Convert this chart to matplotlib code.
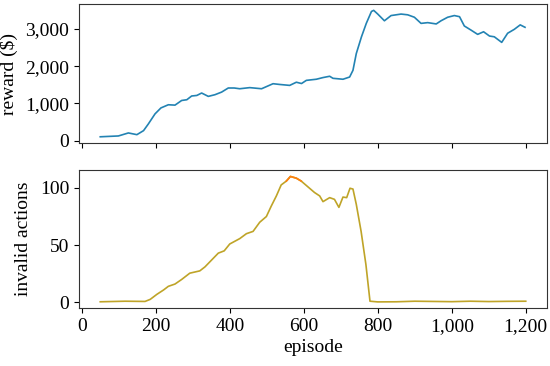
import matplotlib
matplotlib.use("Agg")
import matplotlib.pyplot as plt
from matplotlib.ticker import FuncFormatter
import numpy as np

# reward curve (rolling mean)
reward_ep = [50, 99, 126, 149, 167, 180, 198, 214, 234, 252, 270, 284, 297, 311,
             324, 342, 360, 378, 396, 412, 427, 454, 486, 517, 535, 562, 580, 594,
             607, 634, 652, 670, 679, 706, 724, 733, 742, 756, 769, 783, 789, 800,
             818, 836, 863, 881, 899, 917, 935, 958, 971, 989, 1007, 1021, 1034,
             1052, 1070, 1086, 1102, 1115, 1135, 1151, 1169, 1185, 1198]
reward = [105, 127, 208, 162, 270, 450, 720, 880, 965, 955, 1080, 1100, 1200, 1215,
          1280, 1190, 1235, 1305, 1415, 1415, 1395, 1425, 1395, 1530, 1510, 1485,
          1570, 1535, 1620, 1650, 1695, 1730, 1675, 1650, 1710, 1890, 2340, 2790,
          3150, 3470, 3500, 3400, 3220, 3360, 3400, 3380, 3315, 3150, 3170, 3135,
          3220, 3315, 3360, 3330, 3080, 2970, 2855, 2925, 2810, 2790, 2640, 2885,
          2990, 3110, 3045]

# invalid actions curve
invalid_ep = [50, 117, 171, 185, 203, 221, 234, 252, 270, 292, 319, 333, 351, 369,
              385, 400, 427, 445, 463, 481, 499, 512, 526, 539, 553, 564, 580, 593,
              611, 629, 643, 652, 670, 683, 695, 706, 716, 725, 733, 742, 755, 768,
              779, 800, 850, 900, 950, 1000, 1050, 1100, 1150, 1200]
invalid = [0.5, 1, 0.8, 2.6, 7, 10.8, 14, 16, 20, 25.5, 27.5, 31, 37, 43, 45, 51,
           55.7, 60, 62, 70, 75, 84, 93, 102.6, 106, 110, 108.5, 106, 101, 96, 93,
           88, 91.5, 90, 83, 92, 91.5, 99.7, 99, 85.6, 62, 33, 1, 0.4, 0.5, 1, 0.8,
           0.6, 1, 0.7, 0.9, 1]

plt.rcParams['font.family'] = ['Liberation Serif', 'DejaVu Serif']
plt.rcParams['font.size'] = 14

fig = plt.figure(figsize=(5.5, 3.66), dpi=100)
ax1 = fig.add_axes([0.1436, 0.609, 0.851, 0.380])
ax2 = fig.add_axes([0.1436, 0.158, 0.851, 0.377], sharex=ax1)

comma = FuncFormatter(lambda v, p: f"{int(v):,}")

ax1.plot(reward_ep, reward, color='#2383b3', lw=1.2)
ax1.set_ylabel('reward ($)', labelpad=5)
ax1.set_yticks([0, 1000, 2000, 3000])
ax1.yaxis.set_major_formatter(comma)
ax1.tick_params(labelbottom=False)

ax2.plot(invalid_ep, invalid, color='#bfa428', lw=1.2)
peak = [i for i, e in enumerate(invalid_ep) if 553 <= e <= 593]
ax2.plot([invalid_ep[i] for i in peak], [invalid[i] for i in peak],
         color='#ff7f0e', lw=1.2)
ax2.set_ylabel('invalid actions', labelpad=6)
ax2.set_xlabel('episode', labelpad=3)
ax2.set_yticks([0, 50, 100])
ax2.set_xticks([0, 200, 400, 600, 800, 1000, 1200])
ax2.xaxis.set_major_formatter(comma)

for ax in (ax1, ax2):
    for s in ax.spines.values():
        s.set_color('#333333')

fig.savefig('out.png', dpi=100)
